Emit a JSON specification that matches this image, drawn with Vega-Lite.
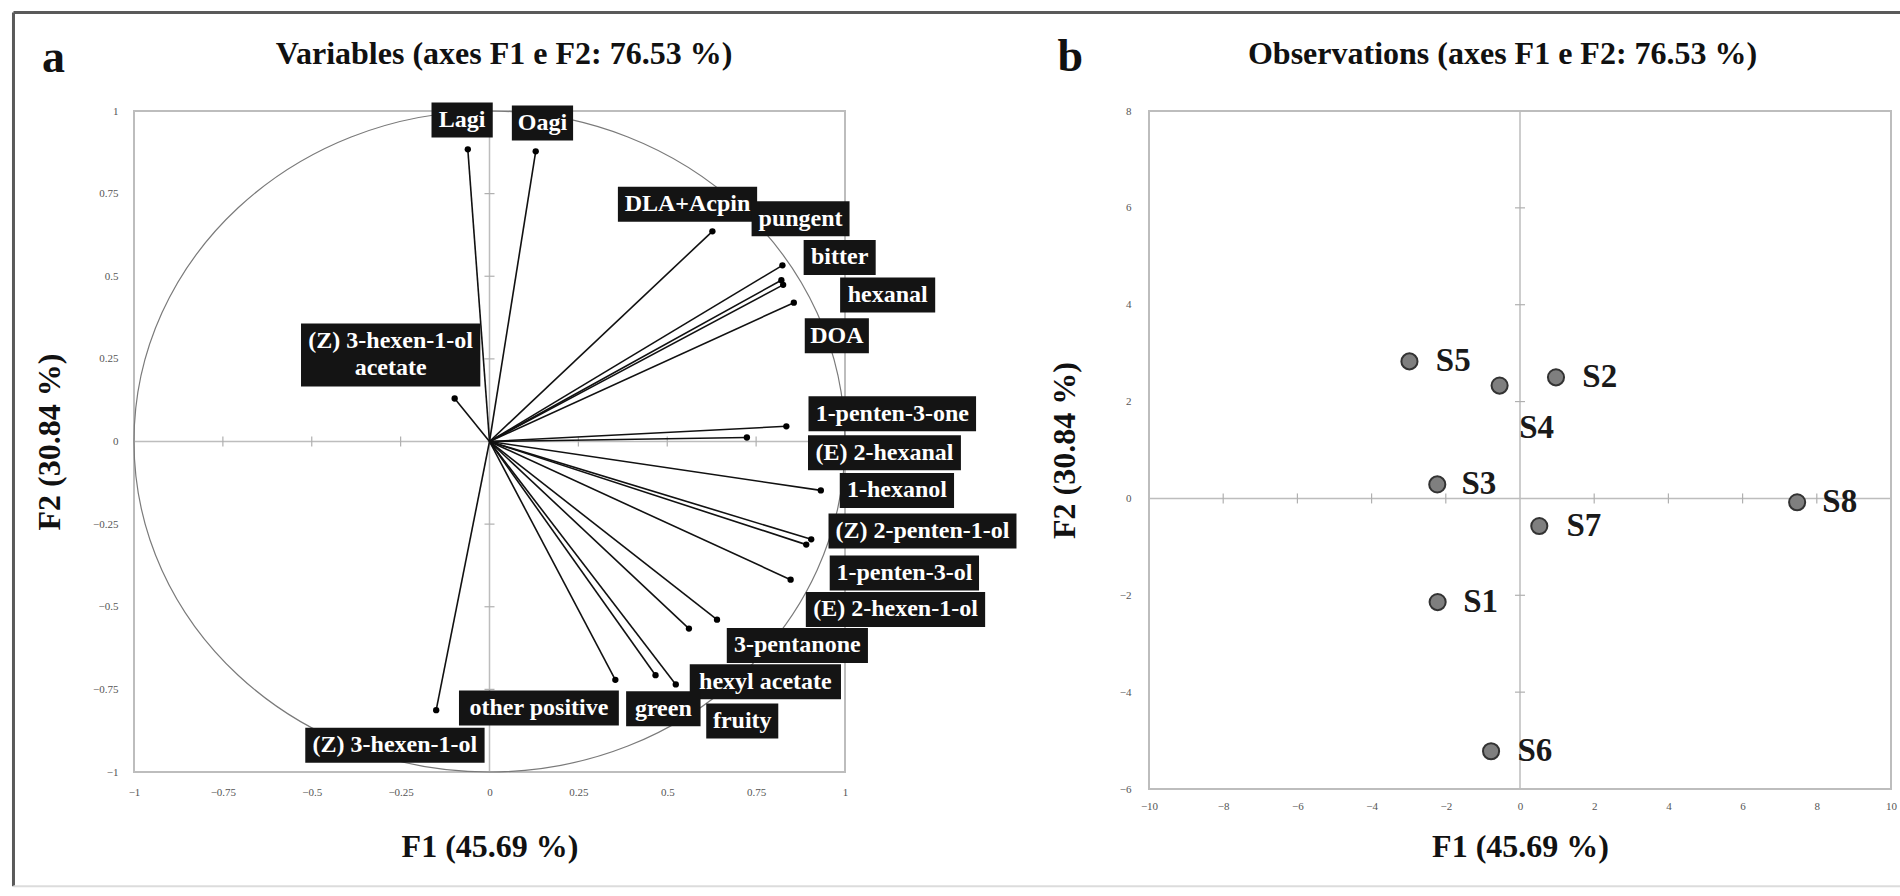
{
  "$schema": "https://vega.github.io/schema/vega-lite/v6.json",
  "background": "white",
  "padding": {"left": 10, "top": 10, "right": 0, "bottom": 0},
  "bounds": "flush",
  "spacing": 304,
  "config": {
    "font": "Liberation Serif",
    "view": {"stroke": "#bdbdbd", "strokeWidth": 2},
    "axis": {"grid": false, "domain": false, "ticks": false, "tickSize": 0, "labelFont": "Liberation Serif", "labelFontSize": 11, "labelColor": "#555555", "labelFlush": false, "labelOverlap": false, "titleFont": "Liberation Serif", "titleFontSize": 32, "titleFontWeight": "bold", "titleColor": "#111111", "format": ".2~f"}
  },
  "datasets": {
    "vars": [
      {"label": "Lagi", "x": -0.061, "y": 0.884, "lx": -0.077, "ly": 0.973},
      {"label": "Oagi", "x": 0.130, "y": 0.878, "lx": 0.149, "ly": 0.964},
      {"label": "DLA+Acpin", "x": 0.627, "y": 0.636, "lx": 0.557, "ly": 0.718},
      {"label": "pungent", "x": 0.824, "y": 0.533, "lx": 0.875, "ly": 0.674},
      {"label": "bitter", "x": 0.821, "y": 0.488, "lx": 0.985, "ly": 0.557},
      {"label": "hexanal", "x": 0.826, "y": 0.474, "lx": 1.120, "ly": 0.443},
      {"label": "DOA", "x": 0.856, "y": 0.420, "lx": 0.977, "ly": 0.320},
      {"label": "(Z) 3-hexen-1-ol\nacetate", "x": -0.098, "y": 0.130, "lx": -0.278, "ly": 0.262},
      {"label": "1-penten-3-one", "x": 0.835, "y": 0.046, "lx": 1.133, "ly": 0.084},
      {"label": "(E) 2-hexanal", "x": 0.724, "y": 0.012, "lx": 1.111, "ly": -0.034},
      {"label": "1-hexanol", "x": 0.932, "y": -0.148, "lx": 1.146, "ly": -0.148},
      {"label": "(Z) 2-penten-1-ol", "x": 0.905, "y": -0.296, "lx": 1.218, "ly": -0.271},
      {"label": "1-penten-3-ol", "x": 0.891, "y": -0.312, "lx": 1.167, "ly": -0.398},
      {"label": "(E) 2-hexen-1-ol", "x": 0.847, "y": -0.418, "lx": 1.142, "ly": -0.508},
      {"label": "3-pentanone", "x": 0.640, "y": -0.539, "lx": 0.866, "ly": -0.617},
      {"label": "hexyl acetate", "x": 0.561, "y": -0.566, "lx": 0.776, "ly": -0.727},
      {"label": "green", "x": 0.467, "y": -0.707, "lx": 0.489, "ly": -0.809},
      {"label": "fruity", "x": 0.524, "y": -0.735, "lx": 0.711, "ly": -0.846},
      {"label": "other positive", "x": 0.354, "y": -0.721, "lx": 0.139, "ly": -0.806},
      {"label": "(Z) 3-hexen-1-ol", "x": -0.150, "y": -0.813, "lx": -0.266, "ly": -0.919}
    ],
    "obs": [
      {"label": "S1", "x": -2.22, "y": -2.14, "lx": -1.53, "ly": -2.14},
      {"label": "S2", "x": 0.97, "y": 2.50, "lx": 1.68, "ly": 2.50},
      {"label": "S3", "x": -2.23, "y": 0.29, "lx": -1.58, "ly": 0.29},
      {"label": "S4", "x": -0.55, "y": 2.33, "lx": -0.02, "ly": 1.45},
      {"label": "S5", "x": -2.98, "y": 2.83, "lx": -2.27, "ly": 2.83},
      {"label": "S6", "x": -0.78, "y": -5.22, "lx": -0.07, "ly": -5.22},
      {"label": "S7", "x": 0.52, "y": -0.57, "lx": 1.25, "ly": -0.57},
      {"label": "S8", "x": 7.47, "y": -0.08, "lx": 8.15, "ly": -0.08}
    ],
    "ticksA": [{"v": -0.75}, {"v": -0.5}, {"v": -0.25}, {"v": 0.25}, {"v": 0.5}, {"v": 0.75}],
    "ticksBx": [{"v": -8}, {"v": -6}, {"v": -4}, {"v": -2}, {"v": 2}, {"v": 4}, {"v": 6}, {"v": 8}],
    "ticksBy": [{"v": -4}, {"v": -2}, {"v": 2}, {"v": 4}, {"v": 6}],
    "one": [{"k": 1}]
  },
  "hconcat": [
    {
      "width": 711,
      "height": 661,
      "layer": [
        {
          "data": {"name": "vars"},
          "mark": {"type": "point", "filled": true, "color": "#000000", "size": 40, "opacity": 0},
          "encoding": {
            "x": {"field": "x", "type": "quantitative", "scale": {"domain": [-1, 1], "nice": false, "zero": false},
                  "axis": {"values": [-1, -0.75, -0.5, -0.25, 0, 0.25, 0.5, 0.75, 1], "title": "F1 (45.69 %)", "labelPadding": 14, "titlePadding": 34}},
            "y": {"field": "y", "type": "quantitative", "scale": {"domain": [-1, 1], "nice": false, "zero": false},
                  "axis": {"values": [-1, -0.75, -0.5, -0.25, 0, 0.25, 0.5, 0.75, 1], "title": "F2 (30.84 %)", "labelPadding": 16, "titlePadding": 26}}
          }
        },
        {
          "data": {"name": "one"},
          "mark": {"type": "rule", "color": "#5a5a5a", "strokeWidth": 3},
          "encoding": {
            "x": {"datum": -1.339, "type": "quantitative", "scale": {"domain": [-1, 1], "nice": false, "zero": false}},
            "x2": {"datum": 3.969},
            "y": {"datum": 1.298, "type": "quantitative", "scale": {"domain": [-1, 1], "nice": false, "zero": false}}
          }
        },
        {
          "data": {"name": "one"},
          "mark": {"type": "rule", "color": "#5a5a5a", "strokeWidth": 3},
          "encoding": {
            "x": {"datum": -1.339, "type": "quantitative", "scale": {"domain": [-1, 1], "nice": false, "zero": false}},
            "y": {"datum": 1.298, "type": "quantitative", "scale": {"domain": [-1, 1], "nice": false, "zero": false}},
            "y2": {"datum": -1.346}
          }
        },
        {
          "data": {"name": "one"},
          "mark": {"type": "rule", "color": "#dcdcdc", "strokeWidth": 2},
          "encoding": {
            "x": {"datum": -1.339, "type": "quantitative", "scale": {"domain": [-1, 1], "nice": false, "zero": false}},
            "x2": {"datum": 3.969},
            "y": {"datum": -1.346, "type": "quantitative", "scale": {"domain": [-1, 1], "nice": false, "zero": false}}
          }
        },
        {
          "data": {"name": "one"},
          "mark": {"type": "rule", "color": "#bdbdbd", "strokeWidth": 1.5},
          "encoding": {
            "x": {"datum": 0, "type": "quantitative", "scale": {"domain": [-1, 1], "nice": false, "zero": false}}
          }
        },
        {
          "data": {"name": "one"},
          "mark": {"type": "rule", "color": "#bdbdbd", "strokeWidth": 1.5},
          "encoding": {
            "y": {"datum": 0, "type": "quantitative", "scale": {"domain": [-1, 1], "nice": false, "zero": false}}
          }
        },
        {
          "data": {"name": "ticksA"},
          "mark": {"type": "point", "shape": "M0,-1L0,1", "size": 100, "filled": false, "color": "#b0b0b0", "strokeWidth": 1.2, "opacity": 1},
          "encoding": {
            "x": {"field": "v", "type": "quantitative", "scale": {"domain": [-1, 1], "nice": false, "zero": false}},
            "y": {"datum": 0, "type": "quantitative", "scale": {"domain": [-1, 1], "nice": false, "zero": false}}
          }
        },
        {
          "data": {"name": "ticksA"},
          "mark": {"type": "point", "shape": "M-1,0L1,0", "size": 100, "filled": false, "color": "#b0b0b0", "strokeWidth": 1.2, "opacity": 1},
          "encoding": {
            "x": {"datum": 0, "type": "quantitative", "scale": {"domain": [-1, 1], "nice": false, "zero": false}},
            "y": {"field": "v", "type": "quantitative", "scale": {"domain": [-1, 1], "nice": false, "zero": false}}
          }
        },
        {
          "data": {"name": "one"},
          "mark": {"type": "point", "shape": "M-1.07564,0A1.07564,1,0,1,0,1.07564,0A1.07564,1,0,1,0,-1.07564,0Z", "size": 436921, "filled": false, "color": "#7a7a7a", "strokeWidth": 1.2, "opacity": 1},
          "encoding": {
            "x": {"datum": 0, "type": "quantitative", "scale": {"domain": [-1, 1], "nice": false, "zero": false}},
            "y": {"datum": 0, "type": "quantitative", "scale": {"domain": [-1, 1], "nice": false, "zero": false}}
          }
        },
        {
          "data": {"name": "vars"},
          "mark": {"type": "rule", "color": "#111111", "strokeWidth": 1.6},
          "encoding": {
            "x": {"field": "x", "type": "quantitative", "scale": {"domain": [-1, 1], "nice": false, "zero": false}},
            "y": {"field": "y", "type": "quantitative", "scale": {"domain": [-1, 1], "nice": false, "zero": false}},
            "x2": {"datum": 0},
            "y2": {"datum": 0}
          }
        },
        {
          "data": {"name": "vars"},
          "mark": {"type": "point", "filled": true, "color": "#000000", "size": 40, "opacity": 1},
          "encoding": {
            "x": {"field": "x", "type": "quantitative", "scale": {"domain": [-1, 1], "nice": false, "zero": false}},
            "y": {"field": "y", "type": "quantitative", "scale": {"domain": [-1, 1], "nice": false, "zero": false}}
          }
        },
        {
          "data": {"name": "vars"},
          "mark": {"type": "rect", "color": "#141414",
                   "width": {"expr": "24*(0.5*length(split(datum.label,'\\n')[0]) - 0.2*length(replace(split(datum.label,'\\n')[0], regexp('[^-() tilfj]','g'), '')) + 0.06*length(replace(split(datum.label,'\\n')[0], regexp('[^npuhbdk]','g'), '')) + 0.21*length(replace(split(datum.label,'\\n')[0], regexp('[^A-Zmw]','g'), ''))) + 13"},
                   "height": {"expr": "indexof(datum.label,'\\n') >= 0 ? 63 : 35"}},
          "encoding": {
            "x": {"field": "lx", "type": "quantitative", "scale": {"domain": [-1, 1], "nice": false, "zero": false}},
            "y": {"field": "ly", "type": "quantitative", "scale": {"domain": [-1, 1], "nice": false, "zero": false}}
          }
        },
        {
          "data": {"name": "vars"},
          "mark": {"type": "text", "color": "#ffffff", "font": "Liberation Serif", "fontSize": 24, "fontWeight": "bold", "align": "center", "baseline": "middle", "lineBreak": "\n", "lineHeight": 27,
                   "dy": {"expr": "indexof(datum.label,'\\n') >= 0 ? -13.5 : 0"}},
          "encoding": {
            "x": {"field": "lx", "type": "quantitative", "scale": {"domain": [-1, 1], "nice": false, "zero": false}},
            "y": {"field": "ly", "type": "quantitative", "scale": {"domain": [-1, 1], "nice": false, "zero": false}},
            "text": {"field": "label", "type": "nominal"}
          }
        },
        {
          "data": {"name": "one"},
          "mark": {"type": "text", "text": "Variables (axes F1 e F2: 76.53 %)", "color": "#111111", "font": "Liberation Serif", "fontSize": 32, "fontWeight": "bold", "align": "center", "baseline": "alphabetic"},
          "encoding": {
            "x": {"datum": 0.041, "type": "quantitative", "scale": {"domain": [-1, 1], "nice": false, "zero": false}},
            "y": {"datum": 1.1407, "type": "quantitative", "scale": {"domain": [-1, 1], "nice": false, "zero": false}}
          }
        },
        {
          "data": {"name": "one"},
          "mark": {"type": "text", "text": "a", "color": "#111111", "font": "Liberation Serif", "fontSize": 46, "fontWeight": "bold", "align": "center", "baseline": "alphabetic"},
          "encoding": {
            "x": {"datum": -1.2264, "type": "quantitative", "scale": {"domain": [-1, 1], "nice": false, "zero": false}},
            "y": {"datum": 1.1195, "type": "quantitative", "scale": {"domain": [-1, 1], "nice": false, "zero": false}}
          }
        }
      ]
    },
    {
      "width": 742,
      "height": 678,
      "layer": [
        {
          "data": {"name": "obs"},
          "mark": {"type": "point", "filled": true, "size": 10, "opacity": 0},
          "encoding": {
            "x": {"field": "x", "type": "quantitative", "scale": {"domain": [-10, 10], "nice": false, "zero": false},
                  "axis": {"values": [-10, -8, -6, -4, -2, 0, 2, 4, 6, 8, 10], "title": "F1 (45.69 %)", "labelPadding": 11, "titlePadding": 20}},
            "y": {"field": "y", "type": "quantitative", "scale": {"domain": [-6, 8], "nice": false, "zero": false},
                  "axis": {"values": [-6, -4, -2, 0, 2, 4, 6, 8], "title": "F2 (30.84 %)", "labelPadding": 18, "titlePadding": 38}}
          }
        },
        {
          "data": {"name": "one"},
          "mark": {"type": "rule", "color": "#bdbdbd", "strokeWidth": 1.5},
          "encoding": {
            "x": {"datum": 0, "type": "quantitative", "scale": {"domain": [-10, 10], "nice": false, "zero": false}}
          }
        },
        {
          "data": {"name": "one"},
          "mark": {"type": "rule", "color": "#bdbdbd", "strokeWidth": 1.5},
          "encoding": {
            "y": {"datum": 0, "type": "quantitative", "scale": {"domain": [-6, 8], "nice": false, "zero": false}}
          }
        },
        {
          "data": {"name": "ticksBx"},
          "mark": {"type": "point", "shape": "M0,-1L0,1", "size": 100, "filled": false, "color": "#b0b0b0", "strokeWidth": 1.2, "opacity": 1},
          "encoding": {
            "x": {"field": "v", "type": "quantitative", "scale": {"domain": [-10, 10], "nice": false, "zero": false}},
            "y": {"datum": 0, "type": "quantitative", "scale": {"domain": [-6, 8], "nice": false, "zero": false}}
          }
        },
        {
          "data": {"name": "ticksBy"},
          "mark": {"type": "point", "shape": "M-1,0L1,0", "size": 100, "filled": false, "color": "#b0b0b0", "strokeWidth": 1.2, "opacity": 1},
          "encoding": {
            "x": {"datum": 0, "type": "quantitative", "scale": {"domain": [-10, 10], "nice": false, "zero": false}},
            "y": {"field": "v", "type": "quantitative", "scale": {"domain": [-6, 8], "nice": false, "zero": false}}
          }
        },
        {
          "data": {"name": "obs"},
          "mark": {"type": "point", "filled": true, "fill": "#7f7f7f", "stroke": "#333333", "strokeWidth": 2, "size": 260, "opacity": 1},
          "encoding": {
            "x": {"field": "x", "type": "quantitative", "scale": {"domain": [-10, 10], "nice": false, "zero": false}},
            "y": {"field": "y", "type": "quantitative", "scale": {"domain": [-6, 8], "nice": false, "zero": false}}
          }
        },
        {
          "data": {"name": "obs"},
          "mark": {"type": "text", "color": "#1a1a1a", "font": "Liberation Serif", "fontSize": 33, "fontWeight": "bold", "align": "left", "baseline": "middle"},
          "encoding": {
            "x": {"field": "lx", "type": "quantitative", "scale": {"domain": [-10, 10], "nice": false, "zero": false}},
            "y": {"field": "ly", "type": "quantitative", "scale": {"domain": [-6, 8], "nice": false, "zero": false}},
            "text": {"field": "label", "type": "nominal"}
          }
        },
        {
          "data": {"name": "one"},
          "mark": {"type": "text", "text": "Observations (axes F1 e F2: 76.53 %)", "color": "#111111", "font": "Liberation Serif", "fontSize": 32, "fontWeight": "bold", "align": "center", "baseline": "alphabetic"},
          "encoding": {
            "x": {"datum": -0.47, "type": "quantitative", "scale": {"domain": [-10, 10], "nice": false, "zero": false}},
            "y": {"datum": 8.98, "type": "quantitative", "scale": {"domain": [-6, 8], "nice": false, "zero": false}}
          }
        },
        {
          "data": {"name": "one"},
          "mark": {"type": "text", "text": "b", "color": "#111111", "font": "Liberation Serif", "fontSize": 46, "fontWeight": "bold", "align": "center", "baseline": "alphabetic"},
          "encoding": {
            "x": {"datum": -12.12, "type": "quantitative", "scale": {"domain": [-10, 10], "nice": false, "zero": false}},
            "y": {"datum": 8.816, "type": "quantitative", "scale": {"domain": [-6, 8], "nice": false, "zero": false}}
          }
        }
      ]
    }
  ]
}
